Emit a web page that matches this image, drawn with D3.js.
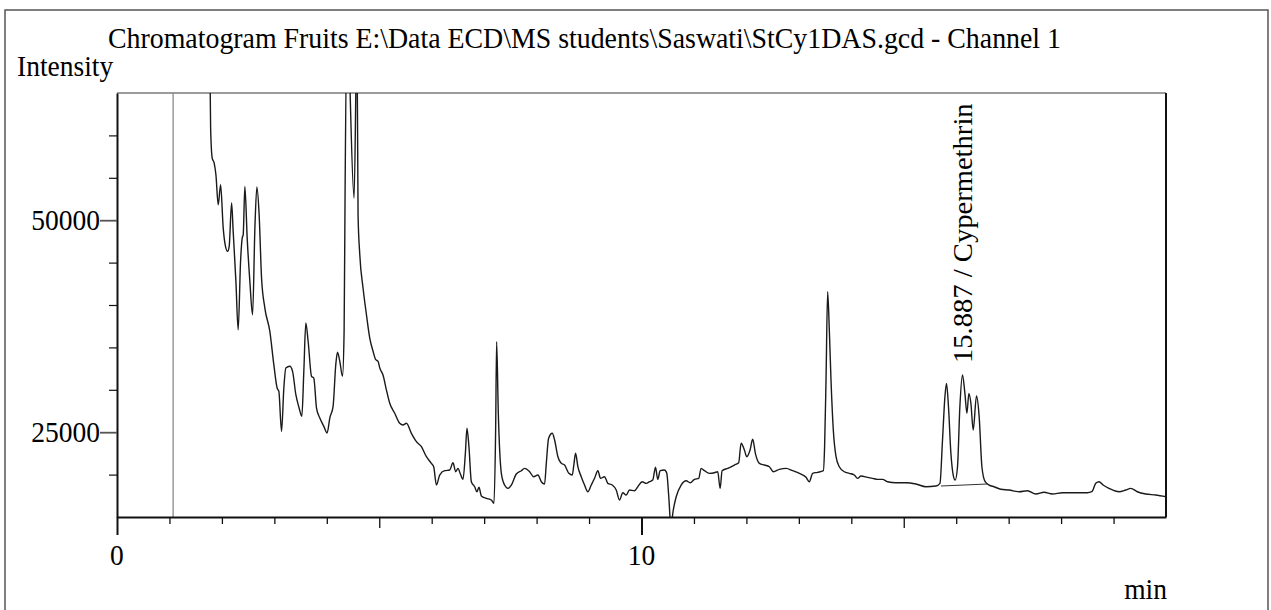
<!DOCTYPE html>
<html>
<head>
<meta charset="utf-8">
<title>Chromatogram StCy1DAS</title>
<script src="https://d3js.org/d3.v7.min.js"></script>
<style>
  body { margin: 0; background: #fff; }
  text { font-family: "Liberation Serif", "Times New Roman", serif; fill: #000; }
</style>
</head>
<body>
<div id="vis"></div>
<script>
// retention time (min) and detector intensity
var retention = [1.750, 1.785, 1.815, 1.853, 1.886, 1.930, 1.975, 2.025, 2.063, 2.109, 2.139, 2.185, 2.215, 2.267, 2.310,
  2.356, 2.387, 2.406, 2.438, 2.482, 2.533, 2.585, 2.629, 2.667, 2.710, 2.756, 2.819, 2.914, 2.990, 3.053, 3.086, 3.137,
  3.181, 3.219, 3.295, 3.347, 3.410, 3.472, 3.524, 3.562, 3.600, 3.644, 3.709, 3.752, 3.804, 3.867, 3.943, 4.006, 4.057,
  4.120, 4.171, 4.204, 4.248, 4.299, 4.330, 4.349, 4.390, 4.420, 4.520, 4.575, 4.596, 4.629, 4.691, 4.756, 4.819, 4.882,
  4.933, 4.977, 5.010, 5.072, 5.137, 5.200, 5.295, 5.390, 5.453, 5.518, 5.613, 5.709, 5.804, 5.899, 5.994, 6.038, 6.090,
  6.152, 6.248, 6.343, 6.406, 6.457, 6.501, 6.547, 6.596, 6.642, 6.672, 6.710, 6.756, 6.819, 6.863, 6.901, 6.947, 7.042,
  7.137, 7.187, 7.219, 7.238, 7.270, 7.328, 7.390, 7.453, 7.518, 7.613, 7.709, 7.771, 7.867, 7.943, 8.025, 8.090, 8.152,
  8.185, 8.229, 8.299, 8.343, 8.406, 8.470, 8.533, 8.615, 8.680, 8.710, 8.743, 8.787, 8.851, 8.914, 8.977, 9.042, 9.105,
  9.168, 9.219, 9.295, 9.358, 9.442, 9.518, 9.581, 9.644, 9.709, 9.771, 9.867, 9.930, 10.013, 10.090, 10.152, 10.215,
  10.267, 10.310, 10.356, 10.438, 10.482, 10.520, 10.562, 10.600, 10.661, 10.756, 10.851, 10.928, 11.010, 11.091, 11.137,
  11.200, 11.295, 11.390, 11.453, 11.499, 11.537, 11.644, 11.771, 11.853, 11.899, 11.962, 12.006, 12.070, 12.120, 12.171,
  12.248, 12.343, 12.438, 12.514, 12.629, 12.756, 12.882, 13.010, 13.137, 13.200, 13.263, 13.358, 13.467, 13.491, 13.518,
  13.549, 13.581, 13.613, 13.657, 13.709, 13.771, 13.867, 13.962, 14.057, 14.120, 14.185, 14.310, 14.406, 14.501, 14.596,
  14.691, 14.851, 15.042, 15.232, 15.423, 15.613, 15.690, 15.739, 15.785, 15.815, 15.853, 15.899, 15.943, 15.981, 16.025,
  16.070, 16.120, 16.166, 16.204, 16.242, 16.280, 16.324, 16.387, 16.438, 16.490, 16.552, 16.629, 16.724, 16.851, 17.010,
  17.200, 17.358, 17.518, 17.676, 17.834, 18.025, 18.280, 18.501, 18.585, 18.661, 18.724, 18.800, 18.914, 19.105, 19.232,
  19.328, 19.453, 19.613, 19.804, 20.000];
var intensity = [80000, 60860, 57330, 56740, 55360, 51820, 54180, 49070, 47100, 46330, 46920, 52020, 48680, 42790, 37080,
  45150, 47890, 48280, 53990, 47890, 42790, 38850, 49070, 53910, 50640, 43180, 39640, 36890, 32960, 30210, 29820, 25100,
  30210, 32570, 32770, 32180, 29420, 27850, 26870, 32180, 37870, 35720, 31590, 31390, 27850, 26670, 25690, 24900, 26670,
  28050, 32960, 34420, 33360, 31590, 36890, 53790, 75000, 70000, 52610, 72000, 50640, 45930, 42000, 38850, 36100, 34540,
  33550, 33360, 32570, 31740, 29970, 28410, 27230, 26050, 25850, 26050, 24870, 23880, 23290, 22110, 21330, 20930, 18770,
  19950, 20460, 20540, 21400, 20340, 20740, 20070, 19440, 22510, 25460, 23290, 19160, 18570, 17980, 18500, 17480, 17200,
  17000, 16620, 25260, 35670, 27230, 20150, 18770, 18380, 18770, 20070, 20460, 20740, 20340, 19750, 19950, 19160, 18890,
  21330, 24280, 24870, 24080, 22110, 21330, 21130, 20150, 19950, 21130, 22510, 20930, 19750, 18770, 17980, 18770, 19560,
  20460, 19560, 19750, 18970, 18770, 18180, 17000, 17860, 17590, 18180, 18100, 18570, 19160, 18970, 19160, 19360,
  20860, 19440, 20460, 20540, 20150, 17390, 13820, 15590, 17390, 18770, 19280, 19040, 19440, 19560, 20740,
  20460, 20150, 20220, 20340, 18380, 20460, 20740, 21130, 21400, 23690, 22900, 22110, 22900, 24160, 22510,
  21330, 21130, 20930, 20340, 20620, 20740, 20460, 20150, 19680, 19160, 20150, 20270, 20460, 23290, 31150,
  41560, 37050, 31150, 25260, 22110, 20930, 20340, 20150, 19950, 19560, 19830, 19680, 19560, 19440, 19440,
  19160, 19040, 19040, 18890, 18570, 18650, 18970, 24080, 29180, 30760, 28000, 22510, 19950, 19360, 20930,
  28000, 31740, 29580, 27230, 29580, 28410, 25260, 29270, 26830, 20930, 19160, 18770, 18570, 18270, 18180,
  17980, 18100, 17710, 17910, 17710, 17860, 17860, 17860, 17980, 18970, 19160, 18770, 18380, 17980, 18180,
  18380, 17980, 17710, 17590, 17390];

// integration baseline under the cypermethrin cluster
var peakBaseTime = [15.709, 16.597];
var peakBaseValue = [18650, 18890];
var peakTime = 15.887;
var peakName = "Cypermethrin";
var markerTime = 1.07;

var yTicks = d3.range(20000, 60001, 5000);
var yLabelled = [25000, 50000];
var xTicks = d3.range(0, 20);
var xLabelled = [0, 10];

var title = "Chromatogram Fruits E:\\Data ECD\\MS students\\Saswati\\StCy1DAS.gcd - Channel 1";

var width = 1271;
var height = 610;
var plotLeft = 117, plotRight = 1166, plotTop = 93, plotBottom = 517;

var svg = d3.select("#vis")
  .append("svg")
  .attr("width", width)
  .attr("height", height);

var x = d3.scaleLinear().domain([0, 20]).range([plotLeft, plotRight]);
var y = d3.scaleLinear().domain([15000, 65000]).range([plotBottom, plotTop]);

// outer frame
svg.append("rect")
  .attr("x", 5).attr("y", 10)
  .attr("width", 1263).attr("height", 700)
  .attr("fill", "none").attr("stroke", "#555").attr("stroke-width", 1.5);

function label(txt, tx, ty, anchor, rotated) {
  return svg.append("text")
    .attr("transform", "translate(" + tx + "," + ty + ") scale(1," + (rotated ? 1.04 : 1.08) + ")" + (rotated ? " rotate(-90)" : ""))
    .attr("text-anchor", anchor)
    .style("font-size", "27.5px")
    .text(txt);
}

label(title, 108, 48, "start").attr("textLength", 953).attr("lengthAdjust", "spacingAndGlyphs");
label("Intensity", 17, 76, "start");

// plot frame: top gray, right black
svg.append("line")
  .attr("x1", plotLeft).attr("x2", plotRight).attr("y1", plotTop).attr("y2", plotTop)
  .attr("stroke", "#7a7a7a").attr("stroke-width", 1.3);
svg.append("line")
  .attr("x1", plotRight).attr("x2", plotRight).attr("y1", plotTop).attr("y2", plotBottom)
  .attr("stroke", "#111").attr("stroke-width", 2);

svg.append("clipPath").attr("id", "plotclip")
  .append("rect")
  .attr("x", plotLeft).attr("y", plotTop)
  .attr("width", plotRight - plotLeft).attr("height", plotBottom - plotTop);

// marker line at run start
svg.append("line")
  .attr("x1", x(markerTime)).attr("x2", x(markerTime))
  .attr("y1", y(65000)).attr("y2", y(15000))
  .attr("stroke", "#8a8a8a").attr("stroke-width", 1.3);

var trace = retention.map(function (t, i) { return [t, intensity[i]]; });

var line = d3.line()
  .x(function (d) { return x(d[0]); })
  .y(function (d) { return y(d[1]); })
  .curve(d3.curveMonotoneX);

svg.append("path")
  .datum(trace)
  .attr("clip-path", "url(#plotclip)")
  .attr("fill", "none")
  .attr("stroke", "#1a1a1a")
  .attr("stroke-width", 1.4)
  .attr("stroke-linejoin", "round")
  .attr("d", line);

svg.append("line")
  .attr("x1", x(peakBaseTime[0])).attr("x2", x(peakBaseTime[1]))
  .attr("y1", y(peakBaseValue[0])).attr("y2", y(peakBaseValue[1]))
  .attr("stroke", "#333").attr("stroke-width", 1.1);

// axes
var yAxis = svg.append("g")
  .attr("transform", "translate(" + plotLeft + ",0)")
  .call(d3.axisLeft(y).tickValues(yTicks).tickSize(8).tickSizeOuter(0).tickFormat(""));
yAxis.selectAll(".tick line")
  .attr("x2", function (d) { return yLabelled.indexOf(d) >= 0 ? -17 : -8; })
  .attr("stroke", function (d) { return yLabelled.indexOf(d) >= 0 ? "#555" : "#111"; })
  .attr("stroke-width", function (d) { return yLabelled.indexOf(d) >= 0 ? 1.8 : 1.2; });
yAxis.select(".domain").attr("stroke", "#111").attr("stroke-width", 2);

var xAxis = svg.append("g")
  .attr("transform", "translate(0," + plotBottom + ")")
  .call(d3.axisBottom(x).tickValues(xTicks).tickSize(7).tickSizeOuter(0).tickFormat(""));
xAxis.selectAll(".tick line")
  .attr("y2", function (d) { return d % 10 === 0 ? 18 : (d % 5 === 0 ? 11 : 7); })
  .attr("stroke", "#111")
  .attr("stroke-width", function (d) { return d % 10 === 0 ? 2 : 1.3; });
xAxis.select(".domain").attr("stroke", "#111").attr("stroke-width", 2);

yLabelled.forEach(function (v) {
  label(d3.format("d")(v), 100, y(v) + 10, "end");
});
xLabelled.forEach(function (v) {
  label(String(v), x(v), 565, "middle");
});
label("min", 1167, 599, "end");

// peak annotation, rotated
var clusterTop = d3.max(intensity.filter(function (v, i) {
  return retention[i] >= peakBaseTime[0] && retention[i] <= peakBaseTime[1];
}));
label(peakTime.toFixed(3) + " / " + peakName, x(peakTime) + 22, y(clusterTop) - 12, "start", true);
</script>
</body>
</html>
